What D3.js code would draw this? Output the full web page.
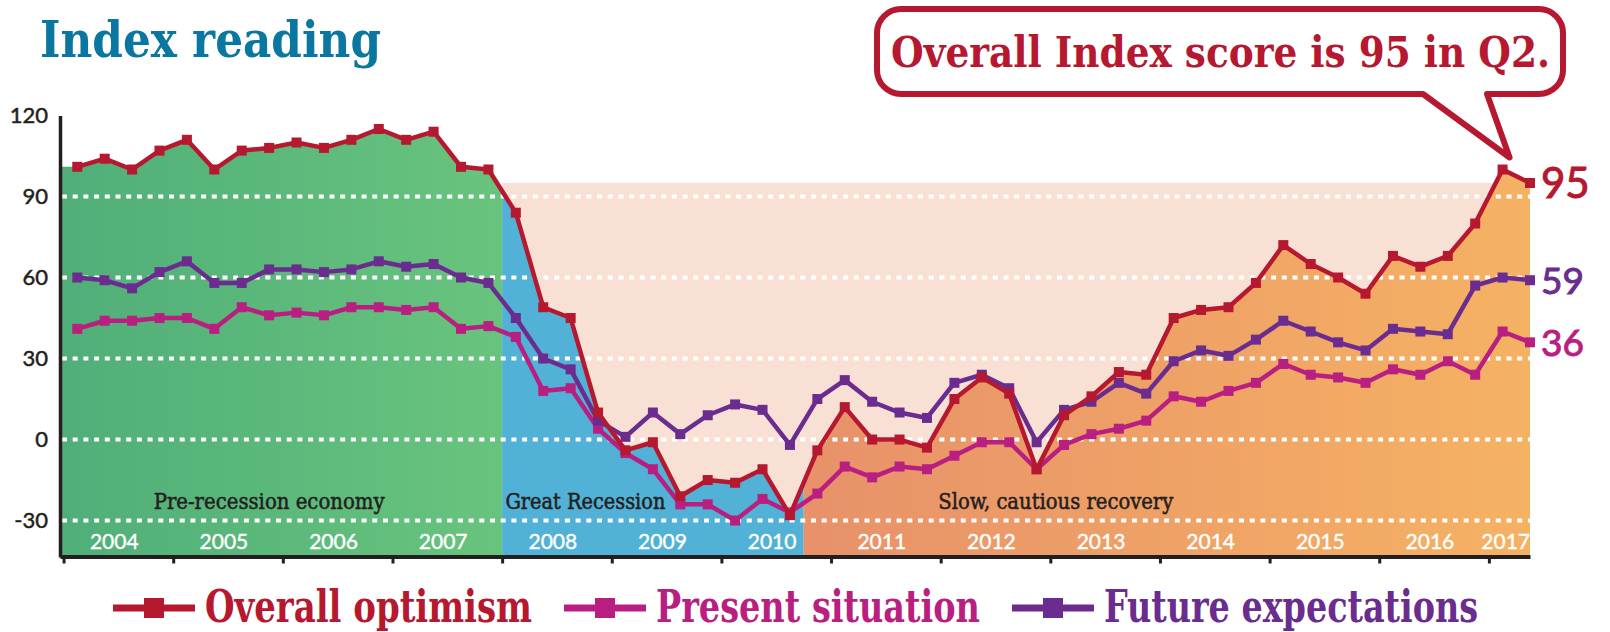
<!DOCTYPE html>
<html>
<head>
<meta charset="utf-8">
<script src="https://cdn.jsdelivr.net/npm/d3@7"></script>
<style>
  body { margin: 0; background: #fff; }
  svg { display: block; }
  text { font-family: Lato, "Open Sans", sans-serif; }
  .slab { font-family: "DejaVu Serif Condensed", "DejaVu Serif", serif; }
</style>
</head>
<body>
<svg width="1610" height="632"></svg>
<script>

// ---- data (quarterly, 2004 Q1 .. 2017 Q2) ----
var years = [2004, 2005, 2006, 2007, 2008, 2009, 2010, 2011, 2012, 2013, 2014, 2015, 2016, 2017];
var quarterNames = ["Q1", "Q2", "Q3", "Q4"];

var overall = [101, 104, 100, 107,  111, 100, 107, 108,  110, 108, 111, 115,  111, 114, 101, 100,
               84, 49, 45, 10,  -4, -1, -21, -15,  -16, -11, -28, -4,  12, 0, 0, -3,
               15, 23, 17, -11,  9, 16, 25, 24,  45, 48, 49, 58,  72, 65, 60, 54,
               68, 64, 68, 80,  100, 95];
var present = [41, 44, 44, 45,  45, 41, 49, 46,  47, 46, 49, 49,  48, 49, 41, 42,
               38, 18, 19, 4,  -5, -11, -24, -24,  -30, -22, -27, -20,  -10, -14, -10, -11,
               -6, -1, -1, -11,  -2, 2, 4, 7,  16, 14, 18, 21,  28, 24, 23, 21,
               26, 24, 29, 24,  40, 36];
var future  = [60, 59, 56, 62,  66, 58, 58, 63,  63, 62, 63, 66,  64, 65, 60, 58,
               45, 30, 26, 7,  1, 10, 2, 9,  13, 11, -2, 15,  22, 14, 10, 8,
               21, 24, 19, -1,  11, 14, 21, 17,  29, 33, 31, 37,  44, 40, 36, 33,
               41, 40, 39, 57,  60, 59];

var seriesNames = ["Overall optimism", "Present situation", "Future expectations"];
var yTicks = [120, 90, 60, 30, 0, -30];
var gridValues = [90, 60, 30, 0, -30];

var periods = ["Pre-recession economy", "Great Recession", "Slow, cautious recovery"];
var periodStarts = ["2004 Q1", "2008 Q1", "2010 Q4"];   // first quarter of each period

// ---- styles ----
var lineColors = ["#b5182f", "#b91f80", "#6a2d8f"];
var periodColors = [["#50ae79", "#68c47d"], ["#52b1d6", "#52b1d6"], ["#e8916a", "#f5b263"]];
var peach = "#f8e1d4";
var ink = "#231f20";

var quarters = [];
years.forEach(function(yr) { quarterNames.forEach(function(q) { quarters.push(yr + " " + q); }); });
quarters = quarters.slice(0, overall.length);

var svg = d3.select("svg");
var defs = svg.append("defs");

var x = d3.scaleLinear().domain([-0.63, quarters.length - 1]).range([60, 1530]);
var y = d3.scaleLinear().domain([-43.5, 120]).range([557, 115.5]);

var x0 = x.range()[0], x1 = x.range()[1];
var yBottom = y.range()[0];
var last = quarters.length - 1;

// period extents in x
var bounds = periodStarts.map(function(q, i) {
    var s = quarters.indexOf(q);
    return i === 0 ? x.domain()[0] : s - 0.5;
});
bounds.push(x.domain()[1]);

/* --------- peach background up to latest overall reading --------- */
svg.append("rect")
    .attr("x", x(bounds[1]))
    .attr("y", y(overall[last]))
    .attr("width", x1 - x(bounds[1]))
    .attr("height", yBottom - y(overall[last]))
    .attr("fill", peach);

/* --------- coloured areas under the overall line --------- */
var areaData = [{i: x.domain()[0], v: overall[0]}].concat(overall.map(function(v, i) { return {i: i, v: v}; }));
var area = d3.area()
    .x(function(d) { return x(d.i); })
    .y0(yBottom)
    .y1(function(d) { return y(d.v); });

periods.forEach(function(p, k) {
    var a = x(bounds[k]), b = x(bounds[k + 1]);
    var grad = defs.append("linearGradient")
        .attr("id", "grad" + k)
        .attr("gradientUnits", "userSpaceOnUse")
        .attr("x1", a).attr("x2", b).attr("y1", 0).attr("y2", 0);
    grad.append("stop").attr("offset", 0).attr("stop-color", periodColors[k][0]);
    grad.append("stop").attr("offset", 1).attr("stop-color", periodColors[k][1]);
    defs.append("clipPath").attr("id", "clip" + k)
        .append("rect").attr("x", a).attr("y", 0).attr("width", b - a).attr("height", 632);
    svg.append("path")
        .datum(areaData)
        .attr("d", area)
        .attr("fill", "url(#grad" + k + ")")
        .attr("clip-path", "url(#clip" + k + ")");
});

/* --------- dashed grid --------- */
svg.append("g").selectAll("line")
    .data(gridValues)
    .enter().append("line")
    .attr("x1", x0 + 2).attr("x2", x1)
    .attr("y1", function(d) { return y(d); })
    .attr("y2", function(d) { return y(d); })
    .attr("stroke", "#fff")
    .attr("stroke-width", 4)
    .attr("stroke-dasharray", "5,5.7");

/* --------- period labels --------- */
var periodLabelAt = [7, bounds[1] + 0.12, 35.7];
var periodAnchor = ["middle", "start", "middle"];
var periodWidth = [231, 160, 235];
svg.append("g").selectAll("text")
    .data(periods)
    .enter().append("text")
    .attr("class", "slab")
    .attr("x", function(d, k) { return x(periodLabelAt[k]); })
    .attr("y", 508.5)
    .attr("text-anchor", function(d, k) { return periodAnchor[k]; })
    .attr("textLength", function(d, k) { return periodWidth[k]; })
    .attr("lengthAdjust", "spacingAndGlyphs")
    .attr("font-size", 22)
    .attr("fill", ink)
    .attr("stroke", ink)
    .attr("stroke-width", 0.5)
    .text(function(d) { return d; });

/* --------- year labels inside the plot --------- */
svg.append("g").selectAll("text")
    .data(years)
    .enter().append("text")
    .attr("x", function(d, k) { return k === years.length - 1 ? x1 : x(4 * k + 1.35); })
    .attr("y", 549)
    .attr("text-anchor", function(d, k) { return k === years.length - 1 ? "end" : "middle"; })
    .attr("font-size", 21)
    .attr("fill", "#fff")
    .attr("stroke", "#fff")
    .attr("stroke-width", 0.4)
    .text(function(d) { return d; });

/* --------- lines + square markers --------- */
var allSeries = [overall, present, future];
var line = d3.line()
    .x(function(d, i) { return x(i); })
    .y(function(d) { return y(d); });
[1, 2, 0].forEach(function(s) {
    var g = svg.append("g");
    g.append("path")
        .datum(allSeries[s])
        .attr("d", line)
        .attr("fill", "none")
        .attr("stroke", lineColors[s])
        .attr("stroke-width", 4.5)
        .attr("stroke-linejoin", "round");
    g.selectAll("rect")
        .data(allSeries[s])
        .enter().append("rect")
        .attr("x", function(d, i) { return x(i) - 5; })
        .attr("y", function(d) { return y(d) - 5; })
        .attr("width", 10).attr("height", 10)
        .attr("fill", lineColors[s]);
});

/* --------- end labels --------- */
svg.append("g").selectAll("text")
    .data(allSeries)
    .enter().append("text")
    .attr("x", x(last) + 11)
    .attr("y", function(d) { return y(d[last]); })
    .attr("dy", "0.36em")
    .attr("font-size", function(d, s) { return s === 0 ? 42 : 37; })
    .attr("fill", function(d, s) { return lineColors[s]; })
    .attr("stroke", function(d, s) { return lineColors[s]; })
    .attr("stroke-width", 1)
    .text(function(d) { return d[last]; });

/* --------- axes --------- */
var yAxis = svg.append("g")
    .attr("transform", "translate(" + x0 + ",0)")
    .call(d3.axisLeft(y).tickValues(yTicks).tickSize(0).tickPadding(12)
        .tickFormat(function(d) { return String(d); }));
yAxis.select(".domain").attr("stroke", ink).attr("stroke-width", 3.5);
yAxis.selectAll("text").attr("font-size", 22).attr("fill", ink)
    .attr("stroke", ink).attr("stroke-width", 0.5)
    .attr("font-family", "Lato, sans-serif");

var xAxis = svg.append("g")
    .attr("transform", "translate(0," + (yBottom - 0.5) + ")")
    .call(d3.axisBottom(x)
        .tickValues(years.map(function(d, k) { return Math.max(4 * k - 0.5, x.domain()[0]); }))
        .tickSize(7).tickSizeOuter(0).tickFormat(""));
xAxis.select(".domain").attr("stroke", ink).attr("stroke-width", 4);
xAxis.selectAll(".tick line").attr("stroke", ink).attr("stroke-width", 3);

/* --------- title --------- */
svg.append("text")
    .attr("class", "slab")
    .attr("x", 40).attr("y", 57)
    .attr("font-size", 50)
    .attr("font-weight", "bold")
    .attr("textLength", 341)
    .attr("lengthAdjust", "spacingAndGlyphs")
    .attr("fill", "#0a77a0")
    .text("Index reading");

/* --------- callout --------- */
var bx0 = 877, bx1 = 1563, by0 = 9, by1 = 94, r = 24;
var tipX = x(last - 1) + 7, tipY = y(overall[last - 1]) - 12;
var callout = d3.path();
callout.moveTo(bx0 + r, by0);
callout.lineTo(bx1 - r, by0);
callout.arcTo(bx1, by0, bx1, by0 + r, r);
callout.lineTo(bx1, by1 - r);
callout.arcTo(bx1, by1, bx1 - r, by1, r);
callout.lineTo(1487, by1);
callout.lineTo(tipX, tipY);
callout.lineTo(1423, by1);
callout.lineTo(bx0 + r, by1);
callout.arcTo(bx0, by1, bx0, by1 - r, r);
callout.lineTo(bx0, by0 + r);
callout.arcTo(bx0, by0, bx0 + r, by0, r);
callout.closePath();
svg.append("path")
    .attr("d", callout.toString())
    .attr("fill", "#fff")
    .attr("stroke", lineColors[0])
    .attr("stroke-width", 6)
    .attr("stroke-linejoin", "round");
svg.append("text")
    .attr("class", "slab")
    .attr("x", 891).attr("y", 67)
    .attr("font-size", 43)
    .attr("font-weight", "bold")
    .attr("textLength", 659)
    .attr("lengthAdjust", "spacingAndGlyphs")
    .attr("fill", lineColors[0])
    .text("Overall Index score is " + overall[last] + " in " + quarters[last].split(" ")[1] + ".");

/* --------- legend --------- */
var legendWidths = [327, 324, 374];
var lx = 113;
seriesNames.forEach(function(name, s) {
    var g = svg.append("g").attr("transform", "translate(" + lx + ",608)");
    g.append("rect").attr("x", 0).attr("y", -3.5).attr("width", 82).attr("height", 7)
        .attr("fill", lineColors[s]);
    g.append("rect").attr("x", 31).attr("y", -10).attr("width", 20).attr("height", 20)
        .attr("fill", lineColors[s]);
    g.append("text")
        .attr("class", "slab")
        .attr("x", 92).attr("y", 14)
        .attr("font-size", 44)
        .attr("font-weight", "bold")
        .attr("textLength", legendWidths[s])
        .attr("lengthAdjust", "spacingAndGlyphs")
        .attr("fill", lineColors[s])
        .text(name);
    lx += 92 + legendWidths[s] + 32;
});

</script>
</body>
</html>
